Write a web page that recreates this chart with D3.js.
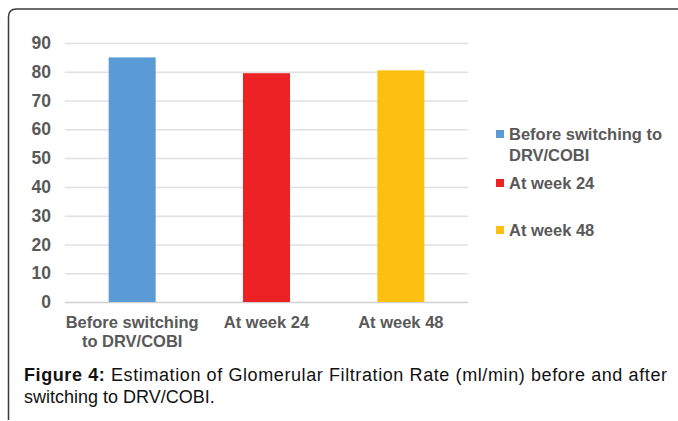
<!DOCTYPE html>
<html>
<head>
<meta charset="utf-8">
<script src="https://cdn.jsdelivr.net/npm/d3@7"></script>
<style>
  body { margin: 0; background: #fff; }
  svg { display: block; }
</style>
</head>
<body>
<div id="chart"></div>
<script>
const categories = ["Before switching to DRV/COBI", "At week 24", "At week 48"];
const axisLabels = [["Before switching", "to DRV/COBI"], ["At week 24"], ["At week 48"]];
const legendLabels = [["Before switching to", "DRV/COBI"], ["At week 24"], ["At week 48"]];
const values = [85, 79.5, 80.5];
const colors = ["#5b9bd5", "#ed2224", "#fdc010"];
const yTicks = [0, 10, 20, 30, 40, 50, 60, 70, 80, 90];

const W = 678, H = 421;
const margin = {top: 43, right: 210, bottom: 119, left: 65};
const width = W - margin.left - margin.right,
  height = H - margin.top - margin.bottom;

const font = "'Liberation Sans', Arial, sans-serif";

const svg = d3.select("#chart").append("svg").attr("width", W).attr("height", H);

// frame around the figure
svg.append("path")
  .attr("d", "M8.5,420 L8.5,17 Q8.5,9 16.5,9 L690,9")
  .attr("fill", "none").attr("stroke", "#3a3a3a").attr("stroke-width", 1.5);

const g = svg.append("g").attr("transform", "translate(" + margin.left + "," + margin.top + ")");

const x = d3.scaleBand().domain(categories).range([0, width]).paddingInner(0.65).paddingOuter(0.325);
const y = d3.scaleLinear().domain([0, 90]).range([height, 0]);

// gridlines
g.selectAll(".grid").data(yTicks).enter().append("line")
  .attr("x1", 0).attr("x2", width)
  .attr("y1", d => y(d) + 0.5).attr("y2", d => y(d) + 0.5)
  .attr("stroke", d => d == 0 ? "#d0d0d0" : "#e0e0e0").attr("stroke-width", 1.5);

const yAxis = g.append("g").call(d3.axisLeft(y).tickValues(yTicks).tickSize(0).tickPadding(14));
yAxis.select(".domain").remove();
yAxis.selectAll("text")
  .style("font-family", font)
  .style("font-size", "17.5px").style("font-weight", "bold").attr("fill", "#595959");

g.selectAll(".bar").data(categories).enter().append("rect")
  .attr("x", d => x(d))
  .attr("y", (d, i) => y(values[i]))
  .attr("width", x.bandwidth())
  .attr("height", (d, i) => height - y(values[i]))
  .attr("fill", (d, i) => colors[i]);

// category labels
const xl = g.selectAll(".xl").data(categories).enter().append("text")
  .attr("text-anchor", "middle")
  .attr("transform", d => "translate(" + (x(d) + x.bandwidth() / 2) + "," + (height + 26) + ")")
  .style("font-family", font)
  .style("font-size", "16.5px").style("font-weight", "bold").attr("fill", "#595959");
xl.each(function(d, i) {
  axisLabels[i].forEach((t, j) => {
    d3.select(this).append("tspan").attr("x", 0).attr("y", j * 19).text(t);
  });
});

// legend
const legendY = [140, 189, 236];
const lg = svg.append("g").attr("transform", "translate(496,0)");
categories.forEach((c, i) => {
  lg.append("rect").attr("x", 0).attr("y", legendY[i] - 10).attr("width", 8).attr("height", 8).attr("fill", colors[i]);
  const t = lg.append("text").attr("x", 13).attr("y", legendY[i])
    .style("font-family", font)
    .style("font-size", "16.5px").style("font-weight", "bold").attr("fill", "#595959");
  legendLabels[i].forEach((s, j) => {
    t.append("tspan").attr("x", 13).attr("y", legendY[i] + j * 21).text(s);
  });
});

// caption
const cap1 = svg.append("text").attr("x", 24).attr("y", 381)
  .attr("textLength", 643).attr("lengthAdjust", "spacing")
  .style("font-family", font)
  .style("font-size", "18px").attr("fill", "#111");
cap1.append("tspan").style("font-weight", "bold").text("Figure 4:");
cap1.append("tspan").text(" Estimation of Glomerular Filtration Rate (ml/min) before and after");
svg.append("text").attr("x", 24).attr("y", 403)
  .style("font-family", font)
  .style("font-size", "18px").attr("fill", "#111")
  .text("switching to DRV/COBI.");
</script>
</body>
</html>
